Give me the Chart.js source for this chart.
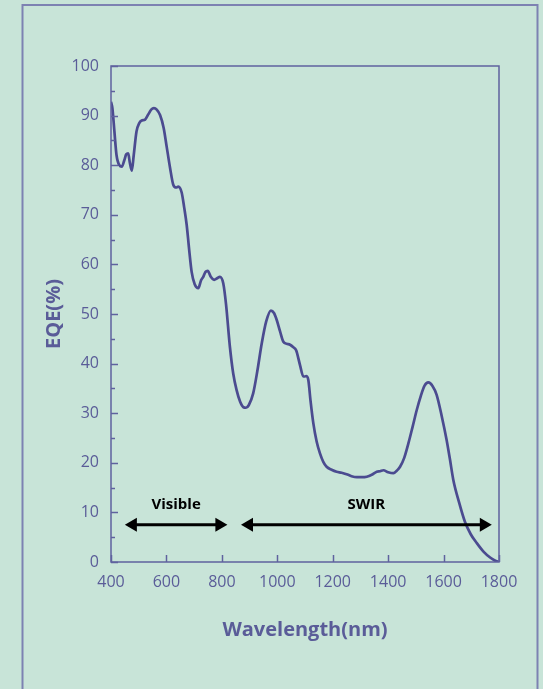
<!DOCTYPE html>
<html>
<head>
<meta charset="utf-8">
<script src="https://cdn.jsdelivr.net/npm/chart.js@4/dist/chart.umd.min.js"></script>
<style>
  html, body { margin: 0; padding: 0; background: #c8e4d8; }
  canvas { display: block; }
</style>
</head>
<body>
<canvas id="myChart" width="543" height="689"></canvas>
<script>
// EQE curve
const wavelengths = [400, 405, 412, 420, 430, 439, 448, 455, 462, 468, 475, 482, 492, 502, 511, 523, 535, 545, 555, 565,
  577, 590, 601, 613, 625, 635, 643, 655, 664, 673, 682, 691, 702, 715, 725, 733, 741, 749, 760, 772,
  783, 793, 805, 815, 829, 841, 853, 866, 878, 887, 897, 913, 928, 944, 960, 977, 988, 998, 1010, 1022,
  1034, 1046, 1058, 1068, 1082, 1094, 1100, 1104, 1112, 1120, 1130, 1142, 1154, 1166, 1178, 1196, 1214, 1232, 1250, 1268,
  1287, 1305, 1323, 1341, 1359, 1371, 1383, 1400, 1419, 1431, 1443, 1458, 1473, 1488, 1503, 1518, 1531, 1545, 1560, 1575,
  1593, 1611, 1623, 1635, 1656, 1677, 1698, 1720, 1744, 1768, 1785, 1800];
const eqe = [92.8, 91.5, 87, 82, 80, 79.7, 81, 82.2, 82.4, 80.5, 78.9, 82, 86.8, 88.5, 89, 89.2, 90.3, 91.2, 91.5, 91.2,
  90.1, 87.5, 83.7, 79.5, 76.0, 75.5, 75.7, 74.5, 71.5, 68, 63, 58.5, 56, 55.2, 56.8, 57.5, 58.5, 58.7, 57.5, 56.9,
  57.2, 57.5, 56.2, 52, 43.4, 38, 34.7, 32.3, 31.2, 31.1, 31.6, 34, 38.5, 44.1, 48.5, 50.7, 50.2, 48.8, 46.5, 44.4,
  44, 43.8, 43.3, 42.7, 39.7, 37.4, 37.4, 37.5, 36.7, 32.5, 28.0, 24.3, 21.9, 20.2, 19.2, 18.6, 18.2, 18.0, 17.7, 17.3,
  17.1, 17.1, 17.2, 17.6, 18.2, 18.3, 18.5, 18.1, 17.9, 18.4, 19.2, 21, 23.9, 27.2, 30.6, 33.5, 35.5, 36.2, 35.5, 33.7,
  29.5, 24.6, 20.7, 16.6, 12.0, 8.1, 5.6, 3.8, 2.1, 0.9, 0.3, 0];

const xTicks = [400, 600, 800, 1000, 1200, 1400, 1600, 1800];
const yMajorTicks = [0, 10, 20, 30, 40, 50, 60, 70, 80, 90, 100];
const yMinorTicks = [5, 15, 25, 35, 45, 55, 65, 75, 85, 95];

// band arrows
const bandNames = ['Visible', 'SWIR'];
const bandStart = [450, 869];
const bandEnd = [820, 1774];
const arrowLevel = 7.5;
const bandLabelLevel = 11.6;

const bgColor = '#c8e4d8';
const axisColor = '#5f629e';
const lineColor = '#4b4b90';
const textColor = '#5a5c98';
const fontName = "'Open Sans'";

const points = wavelengths.map((w, i) => ({x: w, y: eqe[i]}));

const framePlugin = {
    id: 'frame',
    beforeDraw(chart) {
        const ctx = chart.ctx;
        ctx.save();
        ctx.fillStyle = bgColor;
        ctx.fillRect(0, 0, chart.width, chart.height);
        ctx.strokeStyle = '#7d82b2';
        ctx.lineWidth = 2;
        ctx.beginPath();
        ctx.moveTo(22.5, chart.height + 5);
        ctx.lineTo(22.5, 5);
        ctx.lineTo(537.5, 5);
        ctx.lineTo(537.5, chart.height + 5);
        ctx.stroke();
        ctx.restore();
    },
    afterDraw(chart) {
        const ctx = chart.ctx;
        const a = chart.chartArea;
        const x = chart.scales.x, y = chart.scales.y;
        ctx.save();
        ctx.strokeStyle = axisColor;
        ctx.lineWidth = 1.5;
        ctx.strokeRect(a.left, a.top, a.right - a.left, a.bottom - a.top);
        // inward ticks
        ctx.beginPath();
        yMajorTicks.forEach(v => {
            const py = Math.round(y.getPixelForValue(v)) + 0.5;
            ctx.moveTo(a.left, py);
            ctx.lineTo(a.left + 7, py);
        });
        yMinorTicks.forEach(v => {
            const py = Math.round(y.getPixelForValue(v)) + 0.5;
            ctx.moveTo(a.left, py);
            ctx.lineTo(a.left + 4, py);
        });
        xTicks.forEach(v => {
            const px = Math.round(x.getPixelForValue(v)) + 0.5;
            ctx.moveTo(px, a.bottom);
            ctx.lineTo(px, a.bottom - 7);
        });
        ctx.stroke();
        ctx.restore();
    },
    afterDatasetsDraw(chart) {
        const ctx = chart.ctx;
        const x = chart.scales.x, y = chart.scales.y;
        ctx.save();
        ctx.strokeStyle = '#000';
        ctx.fillStyle = '#000';
        ctx.lineWidth = 3;
        ctx.font = 'bold 15px ' + fontName;
        ctx.textAlign = 'center';
        ctx.textBaseline = 'middle';
        const py = y.getPixelForValue(arrowLevel);
        const ly = y.getPixelForValue(bandLabelLevel);
        const head = 12, half = 7;
        for (let i = 0; i < bandNames.length; i++) {
            const x1 = x.getPixelForValue(bandStart[i]);
            const x2 = x.getPixelForValue(bandEnd[i]);
            ctx.beginPath();
            ctx.moveTo(x1 + head - 1, py);
            ctx.lineTo(x2 - head + 1, py);
            ctx.stroke();
            ctx.beginPath();
            ctx.moveTo(x1, py);
            ctx.lineTo(x1 + head, py - half);
            ctx.lineTo(x1 + head, py + half);
            ctx.closePath();
            ctx.fill();
            ctx.beginPath();
            ctx.moveTo(x2, py);
            ctx.lineTo(x2 - head, py - half);
            ctx.lineTo(x2 - head, py + half);
            ctx.closePath();
            ctx.fill();
            ctx.fillText(bandNames[i], (x1 + x2) / 2, ly);
        }
        ctx.restore();
    }
};

const config = {
    type: 'line',
    data: {
        datasets: [{
            data: points,
            borderColor: lineColor,
            borderWidth: 2.7,
            pointRadius: 0,
            fill: false,
            cubicInterpolationMode: 'monotone'
        }]
    },
    options: {
        responsive: false,
        animation: false,
        layout: {
            padding: {left: 0, top: 66, right: 44, bottom: 0}
        },
        plugins: {
            legend: {display: false},
            tooltip: {enabled: false}
        },
        scales: {
            x: {
                type: 'linear',
                min: 400,
                max: 1800,
                afterBuildTicks: (scale) => {
                    scale.ticks = xTicks.map(v => ({value: v}));
                },
                afterFit: (scale) => { scale.height = 127; },
                grid: {display: false, drawTicks: false},
                border: {display: false},
                ticks: {
                    color: textColor,
                    font: {family: fontName, size: 16},
                    padding: 11,
                    maxRotation: 0,
                    autoSkip: false,
                    callback: (v) => String(v)
                },
                title: {
                    display: true,
                    text: 'Wavelength(nm)',
                    color: textColor,
                    font: {family: fontName, size: 20, weight: 'bold'},
                    padding: {top: 0, bottom: 47}
                }
            },
            y: {
                min: 0,
                max: 100,
                afterBuildTicks: (scale) => {
                    scale.ticks = yMajorTicks.map(v => ({value: v}));
                },
                afterFit: (scale) => { scale.width = 111; },
                grid: {display: false, drawTicks: false},
                border: {display: false},
                ticks: {
                    color: textColor,
                    font: {family: fontName, size: 16},
                    padding: 12,
                    callback: (v) => String(v)
                },
                title: {
                    display: true,
                    text: 'EQE(%)',
                    color: textColor,
                    font: {family: fontName, size: 20, weight: 'bold'},
                    padding: {top: 42, bottom: 0}
                }
            }
        }
    },
    plugins: [framePlugin]
};

const myChart = new Chart(document.getElementById('myChart'), config);
</script>
</body>
</html>
